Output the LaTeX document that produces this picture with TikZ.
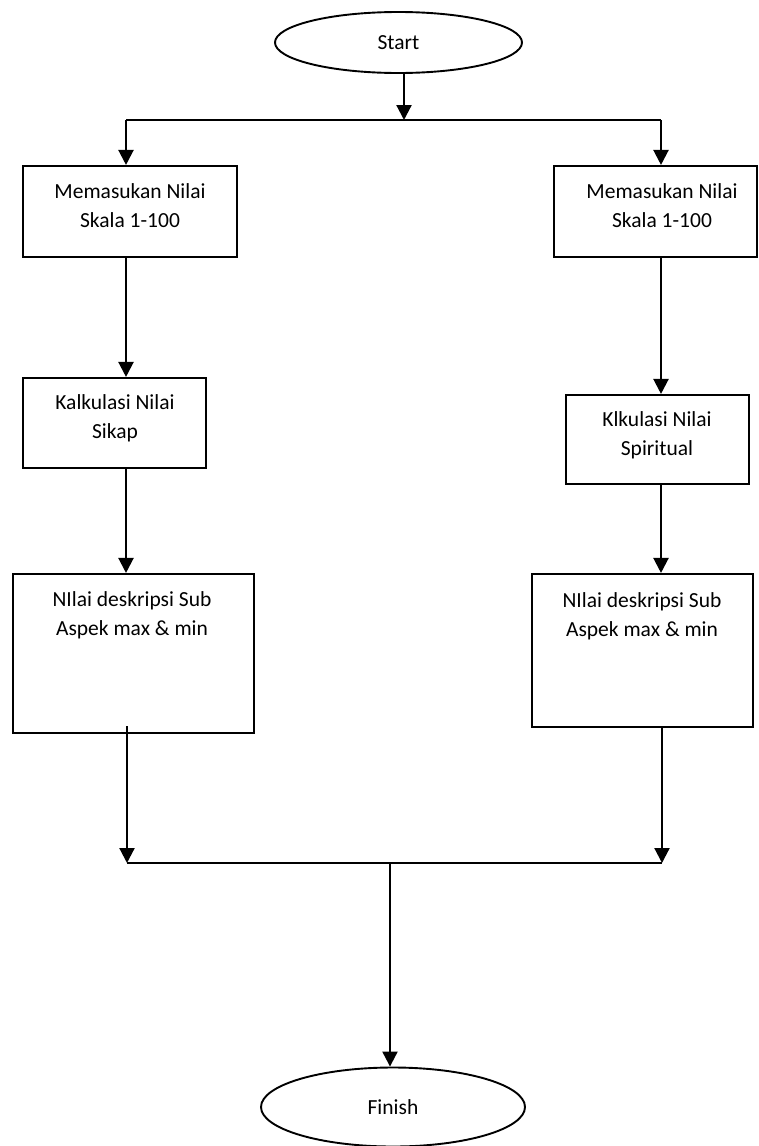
\documentclass[tikz,border=0pt]{standalone}
\usepackage{fontspec}
\setmainfont{Carlito}
\usetikzlibrary{arrows.meta,shapes.geometric}

\tikzset{
  flow/.style={line width=2.2pt},
  arr/.style={flow,-{Triangle[length=15pt,width=15pt]}},
  procbox/.style={draw,line width=2.1pt,rectangle,inner sep=0pt},
  term/.style={draw,line width=1.9pt,ellipse,inner sep=0pt,
    font=\fontsize{21.5}{29}\selectfont},
  lbl/.style={align=center,inner sep=0pt,font=\fontsize{21.5}{29}\selectfont}
}

% Draws a box from its corners (x1,y1) and (x2,y2)
\newcommand{\flowbox}[5]{%
  \node[procbox,minimum width={#4-#2},minimum height={#5-#3}]
    (#1) at ({(#2+#4)/2},{(#3+#5)/2}) {};}

\begin{document}
\begin{tikzpicture}[x=1pt,y=-1pt]
\useasboundingbox (0,0) rectangle (758,1146);

% terminals
\node[term,minimum width=247pt,minimum height=61pt] (start) at (398.5,42.5) {Start};
\node[term,minimum width=264pt,minimum height=79pt] (finish) at (393,1107) {Finish};

% process boxes
\flowbox{inL}{23}{166}{237}{257}
\flowbox{inR}{554}{166}{757}{257}
\flowbox{calcL}{23}{378}{206}{468}
\flowbox{calcR}{566}{395}{749}{484}
\flowbox{descL}{13}{574}{254}{733}
\flowbox{descR}{532}{574}{753}{727}

% box texts
\node[lbl] (tinL) at (130,206) {Memasukan Nilai\\Skala 1-100};
\node[lbl] (tinR) at (662,206) {Memasukan Nilai\\Skala 1-100};
\node[lbl] (tcalcL) at (115,418) {Kalkulasi Nilai\\Sikap};
\node[lbl] (tcalcR) at (657,435) {Klkulasi Nilai\\Spiritual};
\node[lbl] (tdescL) at (132,615) {NIlai deskripsi Sub\\Aspek max \& min};
\node[lbl] (tdescR) at (642,616) {NIlai deskripsi Sub\\Aspek max \& min};

% branch and merge points
\coordinate (split) at (404,120);
\coordinate (splitL) at (126,120);
\coordinate (splitR) at (661,120);
\coordinate (merge) at (390,863);
\coordinate (mergeL) at (127,863);
\coordinate (mergeR) at (662,863);

% connectors
\draw[arr] (start.south -| split) -- (split);
\draw[flow] (splitL) -- (splitR);
\draw[arr] (splitL) -- (inL.north -| splitL);
\draw[arr] (splitR) -- (inR.north -| splitR);

\draw[arr] (inL.south -| splitL) -- (calcL.north -| splitL);
\draw[arr] (calcL.south -| splitL) -- (descL.north -| splitL);
\draw[arr] ([yshift=8pt]descL.south -| mergeL) -- (mergeL);

\draw[arr] (inR.south -| splitR) -- (calcR.north -| splitR);
\draw[arr] (calcR.south -| splitR) -- (descR.north -| splitR);
\draw[arr] (descR.south -| mergeR) -- (mergeR);

\draw[flow] (mergeL) -- (mergeR);
\draw[arr] (merge) -- (finish.north -| merge);
\end{tikzpicture}
\end{document}
